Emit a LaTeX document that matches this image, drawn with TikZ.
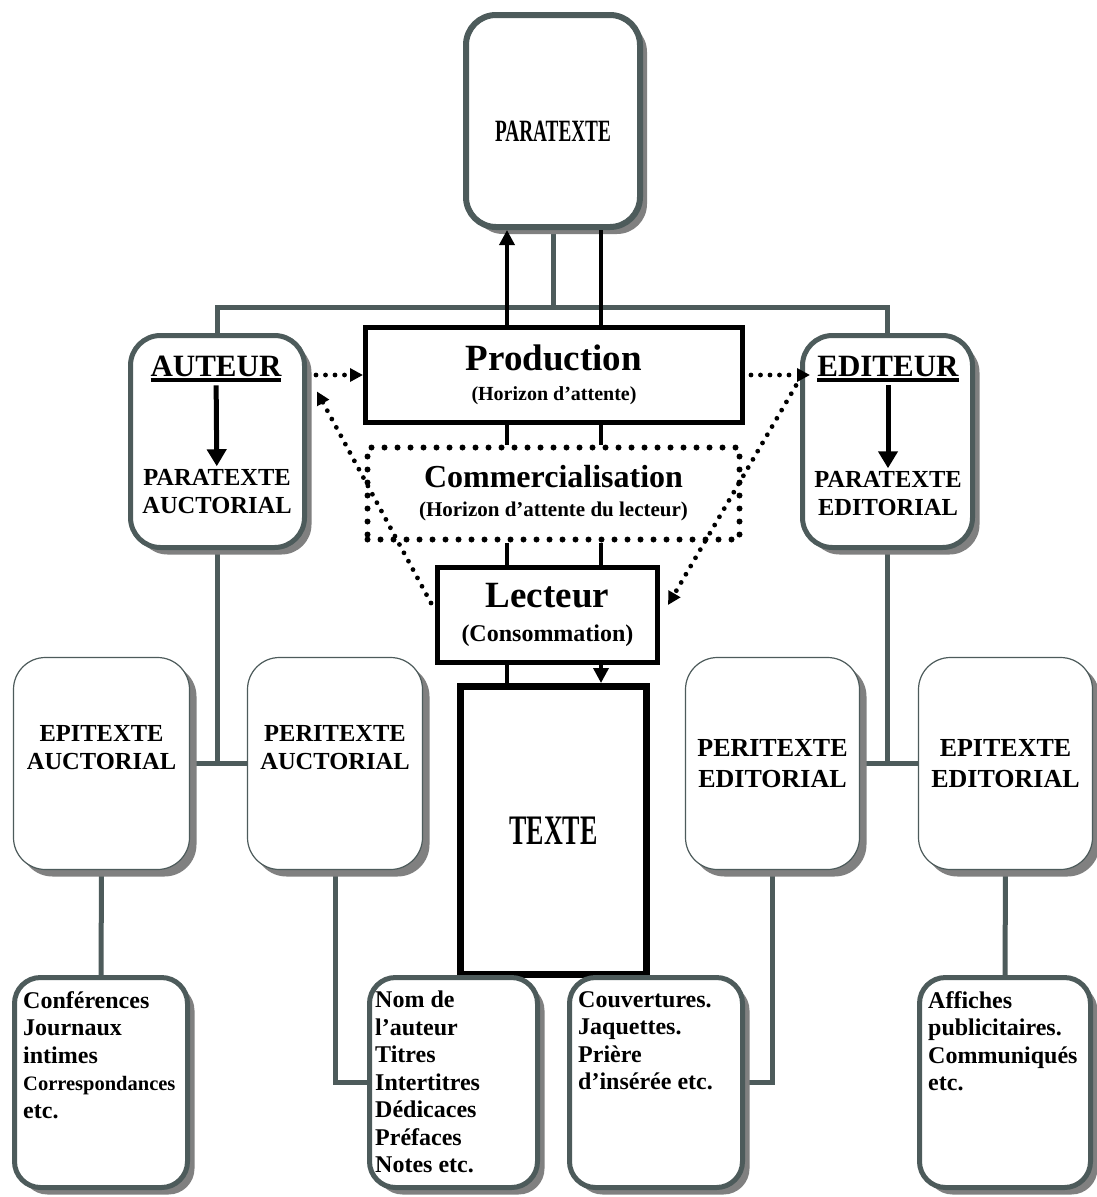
\documentclass[tikz,border=0pt]{standalone}
\usepackage{fontspec}
\setmainfont{Liberation Serif}
\newfontfamily\narrowserif[FakeStretch=0.62]{Liberation Serif}
\usepackage{tikz}
\usepackage{xcolor}
\usetikzlibrary{shapes.geometric, arrows.meta, positioning, calc, shadows, backgrounds}
\definecolor{slategray}{HTML}{4D5B5B}
\definecolor{shadowgray}{HTML}{808080}
\newcommand{\thickul}[1]{\setbox0\hbox{#1}\rlap{\rule[-5pt]{\wd0}{3.5pt}}\box0}

\begin{document}
\begin{tikzpicture}[
  x=1pt, y=-1pt,
  boxshadow/.style={drop shadow={shadow xshift=7pt, shadow yshift=-7pt, fill=shadowgray, opacity=1}},
  greybox/.style={rectangle, rounded corners=#1, draw=slategray, fill=white, boxshadow},
  topbox/.style={greybox=30pt, line width=6pt, minimum width=174pt, minimum height=212pt},
  rolebox/.style={greybox=30pt, line width=5pt, minimum height=212pt},
  rolename/.style={font=\bfseries\fontsize{31}{34}\selectfont},
  roletext/.style={align=center, font=\bfseries\fontsize{24.5}{28}\selectfont},
  typebox/.style={greybox=32pt, line width=1.2pt, minimum height=212pt, align=center, font=\bfseries\fontsize{24.5}{28}\selectfont},
  listbox/.style={greybox=26pt, line width=5pt, minimum height=210pt},
  listtext/.style={anchor=north west, align=left, inner sep=0pt, font=\bfseries\fontsize{24}{27.5}\selectfont},
  blackbox/.style={rectangle, draw=black, line width=5pt, fill=white, align=center},
  dotbox/.style={rectangle, draw=black, line width=6pt, line cap=round, dash pattern=on 0pt off 13pt, align=center},
  link/.style={draw=slategray, line width=5pt},
  wire/.style={draw=black, line width=3.5pt},
  arrow/.style={wire, -{Triangle[length=15pt, width=15pt]}},
  bigarrow/.style={draw=black, line width=5pt, -{Triangle[length=17pt, width=19pt]}},
  dotarrow/.style={draw=black, line width=4.8pt, line cap=round, dash pattern=on 0pt off 9.5pt, -{Triangle[length=13pt, width=13pt]}}
]
  \useasboundingbox (0,0) rectangle (1096,1197);

  % Paratexte at the top
  \node[topbox, font=\narrowserif\bfseries\fontsize{31}{33}\selectfont] (paratexte) at (553,121) {\rule{0pt}{40pt}PARATEXTE};

  % Auteur and editeur
  \node[rolebox, minimum width=174pt] (auteur) at (217.5,441.5) {};
  \node[rolename] (autname) at (216,369) {\thickul{AUTEUR}};
  \node[roletext] (autpara) at (217,492) {PARATEXTE\\AUCTORIAL};
  \node[rolebox, minimum width=170pt] (editeur) at (887.5,441.5) {};
  \node[rolename] (edname) at (888,369) {\thickul{EDITEUR}};
  \node[roletext] (edpara) at (888,494) {PARATEXTE\\EDITORIAL};

  % Central column
  \node[blackbox, minimum width=377pt, minimum height=95pt, font=\bfseries\fontsize{20}{30}\selectfont] (prod) at (554,375)
    {{\fontsize{37}{40}\selectfont Production}\\(Horizon d’attente)};
  \node[dotbox, minimum width=372pt, minimum height=92pt, font=\bfseries\fontsize{21}{29}\selectfont] (comm) at (553.5,493.5)
    {{\fontsize{32}{34}\selectfont Commercialisation}\\(Horizon d’attente du lecteur)};
  \node[blackbox, minimum width=220pt, minimum height=95pt, font=\bfseries\fontsize{24}{34}\selectfont] (lect) at (547.5,615)
    {{\fontsize{37}{40}\selectfont Lecteur}\\(Consommation)};
  \node[blackbox, line width=7pt, minimum width=186pt, minimum height=288pt, font=\narrowserif\bfseries\fontsize{42}{44}\selectfont] (texte) at (553.5,830.5) {TEXTE};

  % Epitexte / peritexte
  \node[typebox, minimum width=176pt] (epia) at (101.5,763.5) {EPITEXTE\\AUCTORIAL\\[4pt]};
  \node[typebox, minimum width=175pt] (peria) at (335,763.5) {PERITEXTE\\AUCTORIAL\\[4pt]};
  \node[typebox, minimum width=174pt, font=\bfseries\fontsize{26}{31}\selectfont] (perie) at (772.5,763.5) {PERITEXTE\\EDITORIAL};
  \node[typebox, minimum width=174pt, font=\bfseries\fontsize{26}{31}\selectfont] (epie) at (1005.5,763.5) {EPITEXTE\\EDITORIAL};

  % Examples
  \node[listbox, minimum width=173pt] (conf) at (101,1082.5) {};
  \node[listtext] (conftext) at ($(conf.north west)+(11,16)$)
    {Conférences\\Journaux\\intimes\\{\fontsize{20.5}{27.5}\selectfont Correspondances}\\etc.};
  \node[listbox, minimum width=168pt] (nom) at (453.5,1082.5) {};
  \node[listtext] (nomtext) at ($(nom.north west)+(8,16)$)
    {Nom de\\l’auteur\\Titres\\Intertitres\\Dédicaces\\Préfaces\\Notes etc.};
  \node[listbox, minimum width=173pt] (couv) at (656,1082.5) {};
  \node[listtext] (couvtext) at ($(couv.north west)+(11,16)$)
    {Couvertures.\\Jaquettes.\\Prière\\d’insérée etc.};
  \node[listbox, minimum width=171pt] (aff) at (1005,1082.5) {};
  \node[listtext] (afftext) at ($(aff.north west)+(11,16)$)
    {Affiches\\publicitaires.\\Communiqués\\etc.};

  \coordinate (hub) at (553,307);
  \coordinate (lx) at (507,0);
  \coordinate (rx) at (601,0);

  % Grey tree lines
  \begin{scope}[on background layer]
    \fill[white] (0,0) rectangle (1096,1197);
    \draw[link] (paratexte.south) -- (hub);
    \draw[link] (auteur.north) |- (hub) -| (editeur.north);
    \draw[link] (auteur.south) -- (auteur.south |- epia.east);
    \draw[link] (epia.east) -- (peria.west);
    \draw[link] (editeur.south) -- (editeur.south |- perie.east);
    \draw[link] (perie.east) -- (epie.west);
    \draw[link] (epia.south) -- (conf.north);
    \draw[link] (peria.south) |- (nom.west);
    \draw[link] (perie.south) |- (couv.east);
    \draw[link] (epie.south) -- (aff.north);
  \end{scope}

  % Black links
  \draw[bigarrow] (autname) -- (autpara);
  \draw[bigarrow] (edname) -- (edpara);
  \draw[arrow] (prod.north -| lx) -- (paratexte.south -| lx);
  \draw[wire] (paratexte.south -| rx) -- (prod.north -| rx);
  \draw[wire] (prod.south -| lx) -- (comm.north -| lx);
  \draw[wire] (prod.south -| rx) -- (comm.north -| rx);
  \draw[wire] (comm.south -| lx) -- (lect.north -| lx);
  \draw[wire] (comm.south -| rx) -- (lect.north -| rx);
  \draw[wire] (lect.south -| lx) -- (texte.north -| lx);
  \draw[arrow] (lect.south -| rx) -- (texte.north -| rx);

  % Dotted links
  \draw[dotarrow] ($(auteur.east |- prod.west)+(9,0)$) -- (prod.west);
  \draw[dotarrow] ($(prod.east)+(6,0)$) -- ($(editeur.west |- prod.east)+(10,0)$);
  \draw[dotarrow] ($(lect.west)+(-4,-12)$) -- ($(auteur.east)+(10,-50)$);
  \draw[dotarrow] ($(editeur.west)+(-4,-56)$) -- ($(lect.east)+(8,-10)$);
\end{tikzpicture}
\end{document}
